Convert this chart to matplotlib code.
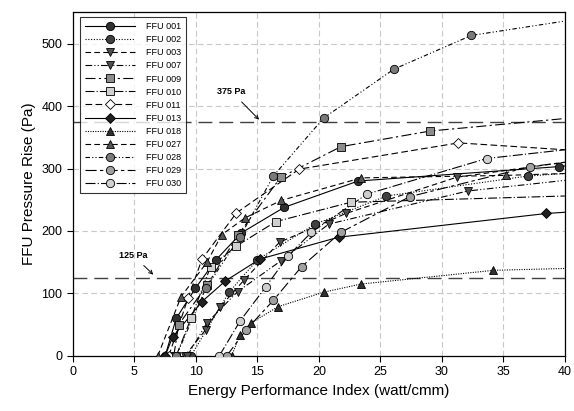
import matplotlib
matplotlib.use('Agg')
import matplotlib.pyplot as plt

plt.rcParams['font.family'] = ['Liberation Sans', 'DejaVu Sans']

names = ['FFU 001', 'FFU 002', 'FFU 003', 'FFU 007', 'FFU 009', 'FFU 010', 'FFU 011',
         'FFU 013', 'FFU 018', 'FFU 027', 'FFU 028', 'FFU 029', 'FFU 030']

# marker points (x = EPI, y = pressure rise)
pts_x = {
    'FFU 001': [7.5, 8.4, 9.95, 11.6, 13.7, 17.2, 23.2, 39.5],
    'FFU 002': [9.6, 12.7, 15.0, 19.7, 25.5, 37.0],
    'FFU 003': [9.1, 10.8, 12.0, 13.9, 16.8, 22.2, 31.2],
    'FFU 007': [9.3, 10.9, 13.4, 16.9, 20.8, 32.1],
    'FFU 009': [8.2, 8.6, 10.9, 13.4, 16.9, 21.8, 29.05],
    'FFU 010': [8.4, 9.6, 11.2, 13.3, 16.5, 22.6],
    'FFU 011': [7.8, 9.35, 10.5, 13.3, 18.4, 31.35],
    'FFU 013': [7.5, 8.1, 10.5, 12.4, 15.2, 21.6, 38.5],
    'FFU 018': [12.9, 13.6, 14.5, 16.7, 20.4, 23.4, 34.2],
    'FFU 027': [6.9, 8.8, 10.9, 12.1, 14.0, 16.95, 23.45, 35.2],
    'FFU 028': [8.4, 10.8, 13.6, 16.3, 20.4, 26.1, 32.4],
    'FFU 029': [12.5, 14.1, 16.3, 18.6, 21.8, 27.4, 37.2],
    'FFU 030': [11.9, 13.6, 15.7, 17.5, 19.4, 23.9, 33.65],
}
pts_y = {
    'FFU 001': [0, 60, 108, 153, 197, 238, 280, 303],
    'FFU 002': [0, 102, 154, 211, 256, 288],
    'FFU 003': [0, 42, 79, 121, 182, 228, 286],
    'FFU 007': [0, 53, 103, 152, 211, 264],
    'FFU 009': [0, 50, 113, 193, 286, 335, 360],
    'FFU 010': [0, 60, 143, 176, 215, 246],
    'FFU 011': [0, 92, 155, 229, 299, 341],
    'FFU 013': [0, 30, 87, 120, 155, 190, 228],
    'FFU 018': [0, 34, 53, 79, 102, 115, 137],
    'FFU 027': [0, 95, 150, 194, 221, 249, 285, 289],
    'FFU 028': [0, 108, 191, 288, 381, 459, 513],
    'FFU 029': [0, 42, 89, 143, 198, 255, 303],
    'FFU 030': [0, 56, 111, 160, 198, 259, 316],
}
# where each fitted curve meets the right edge (x = 40)
end_y = {
    'FFU 001': 304, 'FFU 002': 292, 'FFU 003': 310, 'FFU 007': 281,
    'FFU 009': 380, 'FFU 010': 256, 'FFU 011': 330, 'FFU 013': 230,
    'FFU 018': 140, 'FFU 027': 292, 'FFU 028': 536, 'FFU 029': 310,
    'FFU 030': 330,
}

styles = {
    'FFU 001': ('o', '#303030', '-'),
    'FFU 002': ('o', '#404040', (0, (1, 1.5))),
    'FFU 003': ('v', '#505050', (0, (5, 3))),
    'FFU 007': ('v', '#505050', (0, (6, 2, 1, 2, 1, 2))),
    'FFU 009': ('s', '#8c8c8c', (0, (9, 3, 2, 3))),
    'FFU 010': ('s', '#d0d0d0', (0, (8, 2, 1, 2))),
    'FFU 011': ('D', 'white', (0, (6, 3))),
    'FFU 013': ('D', '#202020', '-'),
    'FFU 018': ('^', '#303030', (0, (1, 1.2))),
    'FFU 027': ('^', '#555555', (0, (5, 3))),
    'FFU 028': ('o', '#7a7a7a', (0, (4, 2, 1, 2, 1, 2))),
    'FFU 029': ('o', '#a0a0a0', (0, (10, 3, 3, 3))),
    'FFU 030': ('o', '#cfcfcf', (0, (9, 2, 1, 2))),
}

fig = plt.figure(figsize=(5.74, 4.11), dpi=100)
ax = fig.add_axes([0.127, 0.134, 0.857, 0.836])

for n in names:
    mk, fc, ls = styles[n]
    ms = {'o': 6, 's': 5.8, 'D': 5.2, 'v': 5.8, '^': 5.8}[mk]
    lx = pts_x[n] + [40]
    ly = pts_y[n] + [end_y[n]]
    ax.plot(lx, ly, color='black', lw=0.8, linestyle=ls, zorder=2)
    ax.plot(pts_x[n], pts_y[n], linestyle='none', marker=mk, ms=ms,
            mfc=fc, mec='black', mew=0.6, zorder=3)
    ax.plot([], [], color='black', lw=0.8, linestyle=ls, marker=mk, ms=ms,
            mfc=fc, mec='black', mew=0.6, label=n)

ref_levels = [375, 125]
for r in ref_levels:
    ax.axhline(r, color='#404040', lw=1.0, linestyle=(0, (10, 5)), zorder=1)

ax.annotate('375 Pa', xy=(15.3, 375), xytext=(12.9, 423), fontsize=6.5,
            fontweight='bold', ha='center', va='center',
            arrowprops=dict(arrowstyle='->', color='black', lw=0.7, shrinkA=3))
ax.annotate('125 Pa', xy=(6.7, 127), xytext=(4.9, 161), fontsize=6.5,
            fontweight='bold', ha='center', va='center',
            arrowprops=dict(arrowstyle='->', color='black', lw=0.7, shrinkA=3))

ax.set_xlim(0, 40)
ax.set_ylim(0, 550)
ax.set_xticks(range(0, 41, 5))
ax.set_yticks(range(0, 501, 100))
ax.tick_params(labelsize=9, direction='out', length=4, width=0.8)
ax.grid(True, color='#c8c8c8', linestyle=(0, (5, 3)), lw=0.8)
ax.set_axisbelow(True)
for s in ax.spines.values():
    s.set_linewidth(0.9)
ax.set_xlabel('Energy Performance Index (watt/cmm)', fontsize=11)
ax.set_ylabel('FFU Pressure Rise (Pa)', fontsize=11)

leg = ax.legend(loc='upper left', bbox_to_anchor=(0.005, 1.0), fontsize=6.5,
                handlelength=5.5, labelspacing=0.45, borderpad=0.6,
                handletextpad=1.2, frameon=True, fancybox=False)
leg.get_frame().set_edgecolor('black')
leg.get_frame().set_linewidth(0.8)

fig.savefig('out.png', dpi=100)
